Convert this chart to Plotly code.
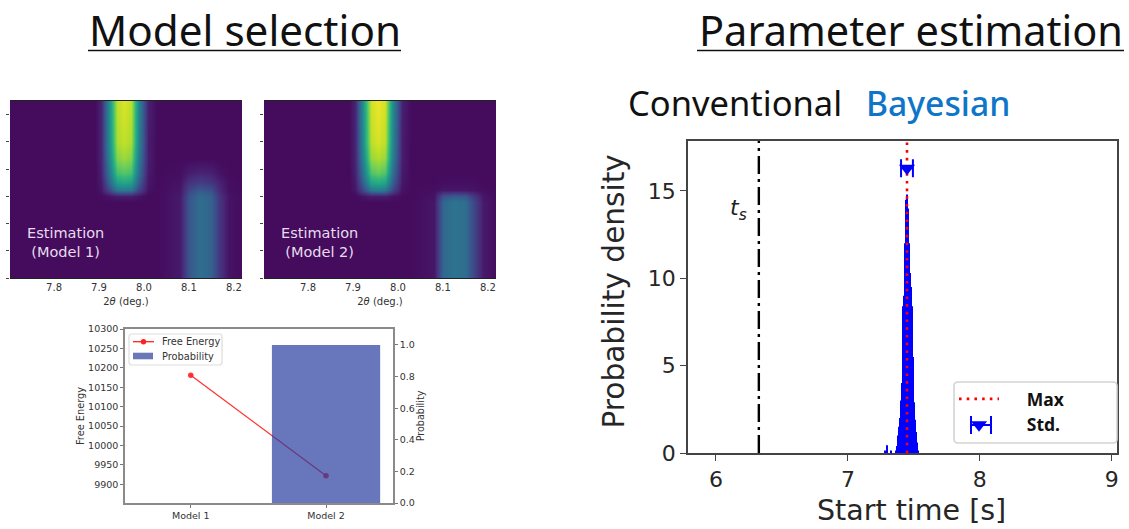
import plotly.graph_objects as go

W, H = 1129, 529

# ---- data ----
theta = [7.70, 7.89, 7.905, 7.92, 7.94, 7.955, 7.97, 7.99, 8.01, 8.03, 8.08, 8.10, 8.125, 8.15, 8.17, 8.19, 8.22]
rows = [0, 2, 2.8, 3.0, 3.24, 3.5, 3.86, 4.4, 5, 6.5]
model1_map = [
    [.03, .03, .03, .03, .03, .03, .03, .03, .03, .03, .07, .27, .36, .31, .15, .05, .03],
    [.03, .03, .03, .03, .03, .03, .03, .03, .03, .03, .07, .27, .36, .31, .15, .05, .03],
    [.03, .03, .03, .03, .03, .03, .03, .03, .03, .03, .07, .27, .36, .31, .15, .05, .03],
    [.03, .03, .03, .05, .08, .08, .08, .05, .03, .03, .07, .26, .35, .30, .14, .05, .03],
    [.03, .03, .06, .20, .39, .41, .39, .20, .05, .03, .06, .21, .28, .24, .11, .04, .03],
    [.03, .03, .07, .28, .55, .58, .55, .28, .06, .03, .05, .15, .19, .16, .09, .04, .03],
    [.03, .03, .09, .35, .70, .73, .70, .35, .07, .03, .04, .08, .10, .09, .05, .03, .03],
    [.03, .03, .10, .40, .81, .85, .81, .40, .08, .03, .03, .03, .03, .03, .03, .03, .03],
    [.03, .03, .10, .43, .87, .91, .87, .43, .08, .03, .03, .03, .03, .03, .03, .03, .03],
    [.03, .03, .10, .44, .90, .95, .90, .44, .09, .03, .03, .03, .03, .03, .03, .03, .03],
]
model2_map = [
    [.03, .03, .03, .03, .03, .03, .03, .03, .03, .03, .06, .33, .38, .36, .21, .07, .03],
    [.03, .03, .03, .03, .03, .03, .03, .03, .03, .03, .06, .33, .38, .36, .21, .07, .03],
    [.03, .03, .03, .03, .03, .03, .03, .03, .03, .03, .06, .33, .38, .36, .21, .07, .03],
    [.03, .03, .03, .05, .08, .08, .08, .05, .03, .03, .05, .25, .29, .27, .16, .06, .03],
    [.03, .03, .06, .20, .40, .43, .40, .20, .05, .03, .04, .06, .06, .06, .05, .04, .03],
    [.03, .03, .07, .28, .57, .60, .57, .28, .06, .03, .03, .04, .04, .04, .04, .03, .03],
    [.03, .03, .09, .35, .72, .76, .72, .35, .07, .03, .03, .03, .03, .03, .03, .03, .03],
    [.03, .03, .10, .41, .84, .88, .84, .41, .08, .03, .03, .03, .03, .03, .03, .03, .03],
    [.03, .03, .10, .44, .90, .94, .90, .44, .08, .03, .03, .03, .03, .03, .03, .03, .03],
    [.03, .03, .10, .46, .93, .98, .93, .46, .09, .03, .03, .03, .03, .03, .03, .03, .03],
]

models = ["Model 1", "Model 2"]
free_energy = [10181, 9922]
probability = [0.0, 1.0]

hist_x = [7.281, 7.296, 7.327,
          7.365, 7.372, 7.380, 7.388, 7.395, 7.403, 7.410, 7.418, 7.425, 7.433, 7.441, 7.448,
          7.456, 7.463, 7.471, 7.479, 7.486, 7.494, 7.501, 7.509, 7.516, 7.524, 7.532]
hist_y = [0.15, 0.45, 0.15,
          0.15, 0.4, 1.0, 1.5, 2.0, 3.0, 4.0, 8.4, 9.0, 12.0, 14.5, 14.8,
          14.0, 12.0, 10.3, 9.5, 8.4, 5.5, 2.9, 1.9, 1.2, 0.6, 0.15]
max_x = 7.448
start_x = 6.325
std_x, std_y, std_err = 7.448, 16.3, 0.045
density_top = 17.86


def dom_x(a, b):
    return [a / W, b / W]


def dom_y(top, bottom):
    return [1 - bottom / H, 1 - top / H]


def px(x):
    return x / W


def py(y):
    return 1 - y / H


DV = "DejaVu Sans"
JP = "Noto Sans"
NB = "\u00a0"
fig = go.Figure()

for xa, ya, z in (("x", "y", model1_map), ("x2", "y2", model2_map)):
    fig.add_trace(go.Heatmap(x=theta, y=rows, z=z, xaxis=xa, yaxis=ya, colorscale="Viridis",
                             zmin=0, zmax=1, zsmooth="best", showscale=False, hoverinfo="skip"))

# free energy / probability
fig.add_trace(go.Scatter(x=models, y=free_energy, name="Free Energy", xaxis="x3", yaxis="y3", showlegend=False,
                         mode="lines+markers", line=dict(color="rgba(255,30,30,0.9)", width=1.3),
                         marker=dict(color="rgba(255,30,30,0.9)", size=5.5)))
fig.add_trace(go.Bar(x=models, y=probability, name="Probability", xaxis="x3", yaxis="y4", width=0.8, showlegend=False,
                     marker=dict(color="rgba(40,60,160,0.7)", line_width=0)))

# parameter estimation
fig.add_trace(go.Bar(x=hist_x, y=hist_y, xaxis="x5", yaxis="y5", width=0.0082, showlegend=False,
                     marker=dict(color="#0000ff", line_width=0)))
fig.add_trace(go.Scatter(x=[start_x, start_x], y=[0, density_top], xaxis="x5", yaxis="y5", mode="lines",
                         showlegend=False, line=dict(color="black", width=2.4, dash="18px,5px,3px,5px")))
fig.add_trace(go.Scatter(x=[max_x, max_x], y=[0, density_top], xaxis="x5", yaxis="y5", mode="lines",
                         name=NB * 5 + "Max", line=dict(color="#ff0000", width=2.6, dash="2.6px,5.1px")))
fig.add_trace(go.Scatter(x=[std_x], y=[std_y], xaxis="x5", yaxis="y5", mode="markers",
                         name=NB * 5 + "Std.", marker=dict(color="#0000ff", symbol="triangle-down", size=14),
                         error_x=dict(type="constant", value=std_err, color="#0000ff", thickness=2, width=9)))

tick_small = dict(family=DV, size=10, color="#333")
heat_axis = dict(range=[7.702, 8.218], tickvals=[7.8, 7.9, 8.0, 8.1, 8.2], ticktext=["7.8", "7.9", "8.0", "8.1", "8.2"],
                 tickfont=tick_small, ticks="", showline=True, mirror=True, linecolor="#222", linewidth=1,
                 automargin=False, showgrid=False, zeroline=False,
                 title=dict(text="2<i>θ</i> (deg.)", font=dict(family=DV, size=10, color="#333"), standoff=5))
heat_y = dict(range=[0, 6.5], tickvals=[0, 1, 2, 3, 4, 5, 6], showticklabels=False, ticks="outside", ticklen=3,
              tickcolor="#444", tickwidth=1, showgrid=False, zeroline=False, showline=False, automargin=False)
spine = dict(showline=True, linecolor="#8a8a8a", linewidth=1.5, showgrid=False, zeroline=False, automargin=False,
             ticks="outside", ticklen=3, tickcolor="#777", tickwidth=1, tickfont=dict(family=DV, size=9.5, color="#333"))
spine2 = dict(showline=True, linecolor="#444", linewidth=1.6, showgrid=False, zeroline=False, automargin=False,
              ticks="outside", ticklen=6, tickcolor="#444", tickwidth=1.4, mirror=True,
              tickfont=dict(family=DV, size=22, color="#262626"))


def note(text, x, y, size, color="#111", family=JP, xanchor="center", weight=None, angle=0):
    f = dict(family=family, size=size, color=color)
    if weight:
        f["weight"] = weight
    return dict(text=text, x=px(x), y=py(y), xref="paper", yref="paper", showarrow=False, textangle=angle,
                xanchor=xanchor, yanchor="middle", font=f, align="center")


def hline(x0, x1, y, color, width):
    return dict(type="line", xref="paper", yref="paper", x0=px(x0), x1=px(x1), y0=py(y), y1=py(y),
                line=dict(color=color, width=width))


def vline(x, y0, y1, color, width):
    return dict(type="line", xref="paper", yref="paper", x0=px(x), x1=px(x), y0=py(y0), y1=py(y1),
                line=dict(color=color, width=width))


def box(x0, x1, y0, y1, fill, line, width=1, kind="rect"):
    return dict(type=kind, xref="paper", yref="paper", x0=px(x0), x1=px(x1), y0=py(y0), y1=py(y1),
                fillcolor=fill, line=dict(color=line, width=width))


def rounded(x0, x1, y0, y1, r, fill, line, width):
    a, b = px(x0), px(x1)
    c, d = py(y0), py(y1)
    rx, ry = r / W, r / H
    path = (f"M{a + rx},{c} L{b - rx},{c} Q{b},{c} {b},{c - ry} L{b},{d + ry} Q{b},{d} {b - rx},{d} "
            f"L{a + rx},{d} Q{a},{d} {a},{d + ry} L{a},{c - ry} Q{a},{c} {a + rx},{c} Z")
    return dict(type="path", xref="paper", yref="paper", path=path, fillcolor=fill, line=dict(color=line, width=width))


fig.update_layout(
    width=W, height=H, autosize=False, margin=dict(l=0, r=0, t=0, b=0, pad=0),
    paper_bgcolor="white", plot_bgcolor="white", barmode="overlay", hovermode=False,
    font=dict(family=DV, color="#333"),
    xaxis=dict(domain=dom_x(10, 242), anchor="y", **heat_axis),
    yaxis=dict(domain=dom_y(101, 278), anchor="x", **heat_y),
    xaxis2=dict(domain=dom_x(264, 496), anchor="y2", **heat_axis),
    yaxis2=dict(domain=dom_y(101, 278), anchor="x2", **heat_y),
    xaxis3=dict(domain=dom_x(125, 393), anchor="y3", type="category", range=[-0.486, 1.495], mirror=True, **spine),
    yaxis3=dict(domain=dom_y(329, 503), anchor="x3", range=[9852, 10300], mirror=False,
                tickvals=[9900, 9950, 10000, 10050, 10100, 10150, 10200, 10250, 10300],
                ticktext=["9900", "9950", "10000", "10050", "10100", "10150", "10200", "10250", "10300"],
                title=dict(text="Free Energy", font=dict(family=DV, size=9.8, color="#333"), standoff=2), **spine),
    yaxis4=dict(domain=dom_y(329, 503), anchor="x3", overlaying="y3", side="right", range=[0, 1.101],
                tickvals=[0, .2, .4, .6, .8, 1], ticktext=["0.0", "0.2", "0.4", "0.6", "0.8", "1.0"],
                title=dict(text="Probability", font=dict(family=DV, size=9.6, color="#333"), standoff=4), **spine),
    xaxis5=dict(domain=dom_x(688, 1117), anchor="y5", range=[5.788, 9.04], tickvals=[6, 7, 8, 9], **spine2),
    yaxis5=dict(domain=dom_y(141, 453), anchor="x5", range=[0, density_top], tickvals=[0, 5, 10, 15], **spine2),
    legend=dict(x=px(954), y=py(381), xanchor="left", yanchor="top", bgcolor="rgba(255,255,255,0)",
                borderwidth=0, font=dict(family=JP, size=17.5, color="#111", weight=700),
                itemwidth=40, tracegroupgap=0, traceorder="normal"),
    annotations=[
        note("Estimation<br>(Model 1)", 65.5, 243, 14.5, "#e6dcec", DV),
        note("Estimation<br>(Model 2)", 319.5, 243, 14.5, "#e6dcec", DV),
        note("Model selection", 244.5, 30, 42.2),
        note("Parameter estimation", 910.5, 30, 41.5),
        note("Conventional", 626, 103, 34.5, xanchor="left"),
        note("Bayesian", 864, 103, 33.7, "#0f75c8", xanchor="left", weight=500),
        note("<i>t<sub>s</sub></i>", 738, 209, 22, "#222", DV),
        note("Free Energy", 160, 341.5, 9.8, "#333", DV, xanchor="left"),
        note("Probability", 160, 356, 9.8, "#333", DV, xanchor="left"),
        note("Start time [s]", 911.5, 510, 28.5, "#262626", DV),
        note("Probability density", 613, 291.5, 29.6, "#262626", DV, angle=-90),
    ],
    shapes=[
        hline(88, 401, 50.5, "#111", 1.6),
        hline(697, 1124, 50.5, "#111", 1.6),
        rounded(129, 222, 334, 365, 3, "rgba(255,255,255,0.85)", "#ddd", 1.2),
        hline(133, 154, 341.7, "#ff2020", 1.3),
        box(140.8, 146.2, 339, 344.4, "#ff2020", "#ff2020", 0, "circle"),
        box(133, 153, 352.7, 359.3, "#6a78b8", "#6a78b8", 0),
        rounded(954, 1117, 382, 443, 4, "white", "#d4d4d4", 1.6),
        # error-bar part of the "Std." legend key
        hline(970, 992, 425, "#0000ff", 2),
        vline(971, 416, 434, "#0000ff", 2),
        vline(991, 416, 434, "#0000ff", 2),
    ],
)

fig.write_html("out.html", post_script="document.body.style.margin='0';", config=dict(displayModeBar=False))
